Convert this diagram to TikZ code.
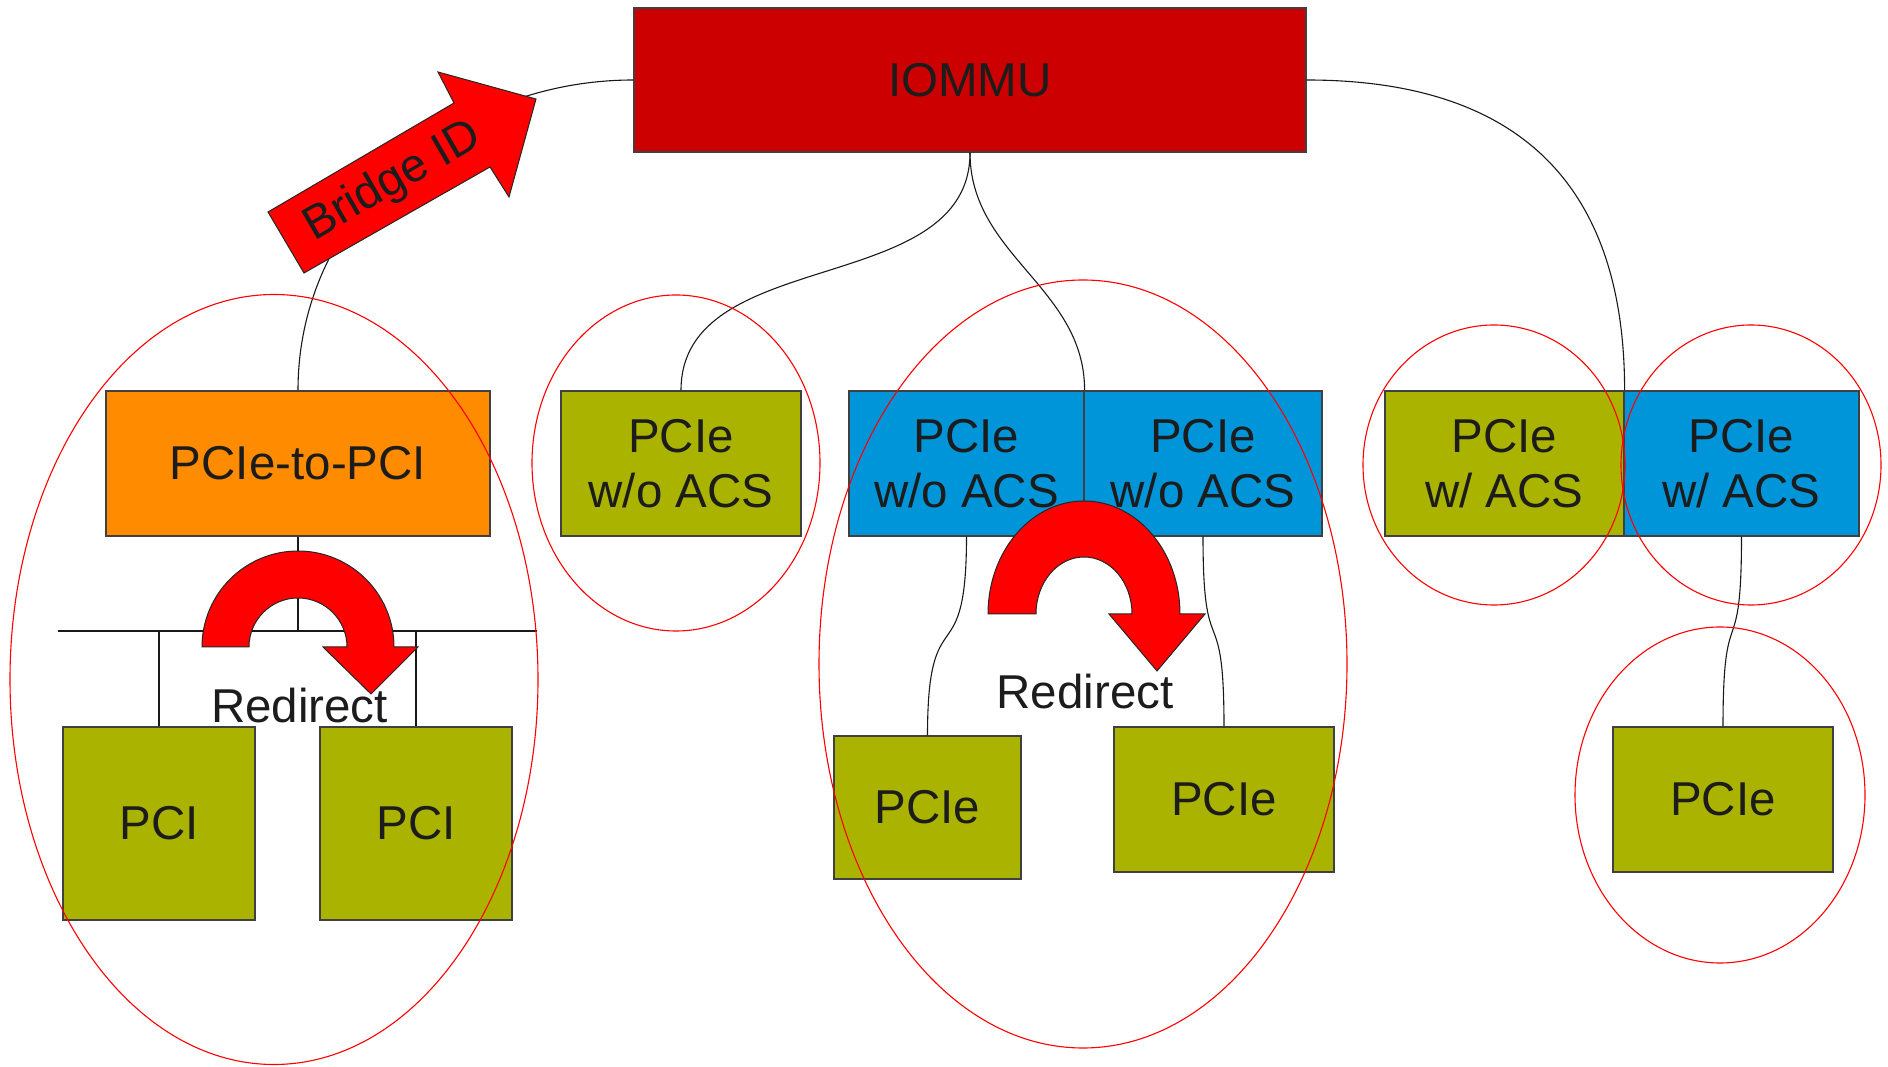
\documentclass[tikz,border=0pt]{standalone}
\usepackage{fontspec}
\setmainfont{Liberation Sans}
\usepackage{xcolor}
\usepackage{tikz}
\definecolor{iommured}{HTML}{CC0000}
\definecolor{bridgeorange}{HTML}{FF8B00}
\definecolor{devgreen}{HTML}{AAB300}
\definecolor{portblue}{HTML}{0094D9}
\definecolor{inkgray}{HTML}{1C1C1C}
\tikzset{>=latex,
    unit/.style={draw=black!75, line width=1.2pt, text=inkgray, align=center,
        inner sep=0pt, font=\fontsize{47.5}{55}\selectfont, minimum height=145pt},
    endpoint/.style={unit, fill=devgreen},
    port/.style={unit, fill=portblue},
    link/.style={draw=black!90, line width=1.1pt}}

\begin{document}
\begin{tikzpicture}[x=1pt, y=1pt,
      group/.style={draw=red, line width=1.1pt},
      turn/.style={draw=black!85, line width=1pt, fill=red},
      caption/.style={text=inkgray, inner sep=0pt, font=\fontsize{47.5}{55}\selectfont}]
  \useasboundingbox (0,0) rectangle (1888,1066);
  % Root complex and ports
  \node[unit, fill=iommured, minimum width=672pt, minimum height=144pt] (iommu) at (970,986) {IOMMU};
  \node[unit, fill=bridgeorange, minimum width=384pt] (p2p) at (298,602.5) {PCIe-to-PCI};
  \node[endpoint, minimum width=240pt] (noacs) at (681,602.5) {PCIe\\w/o ACS};
  \node[port, minimum width=235pt] (swA) at (966.5,602.5) {PCIe\\w/o ACS};
  \node[port, minimum width=238pt] (swB) at (1203,602.5) {PCIe\\w/o ACS};
  \node[endpoint, minimum width=239pt] (acsA) at (1504.5,602.5) {PCIe\\w/ ACS};
  \node[port, minimum width=235pt] (acsB) at (1741.5,602.5) {PCIe\\w/ ACS};
  % Devices
  \node[endpoint, minimum width=192pt, minimum height=193pt] (pciA) at (159,242.5) {PCI};
  \node[endpoint, minimum width=192pt, minimum height=193pt] (pciB) at (416,242.5) {PCI};
  \node[endpoint, minimum width=187pt, minimum height=143pt] (devA) at (927.5,258.5) {PCIe};
  \node[endpoint, minimum width=220pt] (devB) at (1224,266.5) {PCIe};
  \node[endpoint, minimum width=220pt] (devC) at (1723,266.5) {PCIe};
  % Links
  \draw[link] (p2p.north) to[out=90, in=180] (iommu.west);
  \draw[link] (iommu.south) to[out=-90, in=90] (noacs.north);
  \draw[link] (iommu.south) to[out=-90, in=90] (swA.north east);
  \draw[link] (iommu.east) to[out=0, in=90, looseness=1.2] (acsA.north east);
  \draw[link] (swA.south) to[out=-90, in=90, looseness=1.8] (devA.north);
  \draw[link] (swB.south) to[out=-90, in=90, looseness=1.8] (devB.north);
  \draw[link] (acsB.south) to[out=-90, in=90, looseness=1.8] (devC.north);
  % Conventional PCI bus
  \coordinate (busL) at (58,435);
  \coordinate (busR) at (537,435);
  \draw[link] (busL) -- (busR);
  \draw[link] (p2p.south) -- (p2p.south |- busL);
  \draw[link] (pciA.north) -- (pciA.north |- busL);
  \draw[link] (pciB.north) -- (pciB.north |- busL);
  % IOMMU groups
  \draw[group] (274,386.5) ellipse [x radius=264, y radius=385];
  \draw[group] (676,603) ellipse [x radius=144, y radius=168];
  \draw[group] (1083,402) ellipse [x radius=264, y radius=384];
  \draw[group] (1494,601) ellipse [x radius=131, y radius=140];
  \draw[group] (1751,601) ellipse [x radius=130, y radius=140];
  \draw[group] (1720,271) ellipse [x radius=145, y radius=168];
  % Requester ID seen upstream
  \draw[turn] (268,854) -- (304,793) -- (490,899) -- (509,869) -- (536,967)
    -- (438,994) -- (454,963) -- cycle;
  \node[caption, font=\fontsize{47}{55}\selectfont, rotate=30] (bid) at (393,884) {Bridge ID};
  % Peer-to-peer redirects
  \draw[turn] (202,419) arc[start angle=180, end angle=0, radius=96] -- (418,419)
    -- (371,372) -- (323,419) -- (347,419) arc[start angle=0, end angle=180, radius=49] -- cycle;
  \node[caption, anchor=base] (redirL) at (299.5,343) {Redirect};
  \draw[turn] (988,452) arc[start angle=180, end angle=0, x radius=96, y radius=113] -- (1205,452)
    -- (1157,395) -- (1109,452) -- (1132,452) arc[start angle=0, end angle=180, x radius=48, y radius=57] -- cycle;
  \node[caption, anchor=base] (redirM) at (1085,357) {Redirect};
\end{tikzpicture}
\end{document}
